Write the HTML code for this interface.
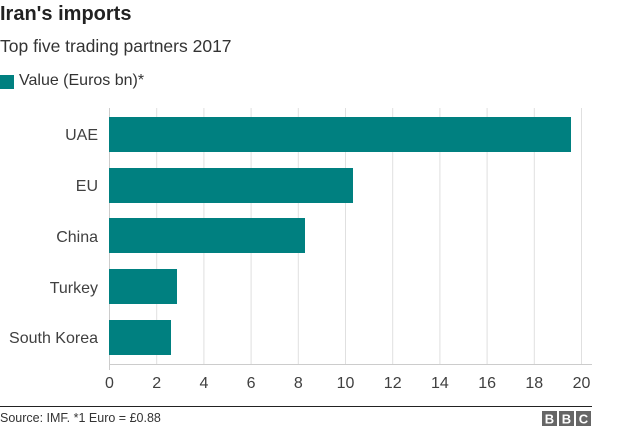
<!DOCTYPE html>
<html><head><style>
body{margin:0;width:624px;height:431px;background:#fff;font-family:"Liberation Sans",Arial,sans-serif;position:relative;overflow:hidden;color:#222}
.a{position:absolute}
</style></head><body>
<div class="a" style="left:0;top:3px;font-size:20px;font-weight:bold;color:#222">Iran's imports</div>
<div class="a" style="left:0;top:36px;font-size:17.5px;color:#333">Top five trading partners 2017</div>
<div class="a" style="left:0;top:75px;width:14px;height:14px;background:#008080"></div>
<div class="a" style="left:19px;top:72px;font-size:16px;color:#333">Value (Euros bn)*</div>
<svg class="a" style="left:0;top:0" width="624" height="431">
<g stroke="#e0e0e0" stroke-width="1">
<line x1="156.7" y1="108" x2="156.7" y2="364"/><line x1="203.9" y1="108" x2="203.9" y2="364"/><line x1="251.1" y1="108" x2="251.1" y2="364"/><line x1="298.3" y1="108" x2="298.3" y2="364"/><line x1="345.5" y1="108" x2="345.5" y2="364"/><line x1="392.7" y1="108" x2="392.7" y2="364"/><line x1="439.9" y1="108" x2="439.9" y2="364"/><line x1="487.1" y1="108" x2="487.1" y2="364"/><line x1="534.3" y1="108" x2="534.3" y2="364"/><line x1="581.5" y1="108" x2="581.5" y2="364"/>
<line x1="109" y1="364.5" x2="592" y2="364.5" stroke="#ccc"/>
<line x1="109.5" y1="108" x2="109.5" y2="370" stroke="#ccc"/>
</g>
<g fill="#008080">
<rect x="109" y="117" width="462" height="35"/>
<rect x="109" y="168" width="244" height="35"/>
<rect x="109" y="218" width="196" height="35"/>
<rect x="109" y="269" width="68" height="35"/>
<rect x="109" y="320" width="62" height="35"/>
</g>
<g font-size="16" fill="#404040" text-anchor="end">
<text x="98" y="140">UAE</text><text x="98" y="191">EU</text><text x="98" y="242">China</text><text x="98" y="293">Turkey</text><text x="98" y="343">South Korea</text>
</g>
<g font-size="16" fill="#404040" text-anchor="middle">
<text x="109.5" y="388">0</text><text x="156.7" y="388">2</text><text x="203.9" y="388">4</text><text x="251.1" y="388">6</text><text x="298.3" y="388">8</text><text x="345.5" y="388">10</text><text x="392.7" y="388">12</text><text x="439.9" y="388">14</text><text x="487.1" y="388">16</text><text x="534.3" y="388">18</text><text x="581.5" y="388">20</text>
</g>
<line x1="0" y1="406.5" x2="592" y2="406.5" stroke="#222" stroke-width="1"/>
<text x="0" y="422" font-size="12.5" fill="#333">Source: IMF. *1 Euro = £0.88</text>
<g fill="#666"><rect x="542" y="411" width="15" height="15"/><rect x="559" y="411" width="15" height="15"/><rect x="576" y="411" width="15" height="15"/></g>
<g fill="#fff" font-size="13" font-weight="bold" text-anchor="middle"><text x="549.5" y="423.5">B</text><text x="566.5" y="423.5">B</text><text x="583.5" y="423.5">C</text></g>
</svg>
</body></html>
